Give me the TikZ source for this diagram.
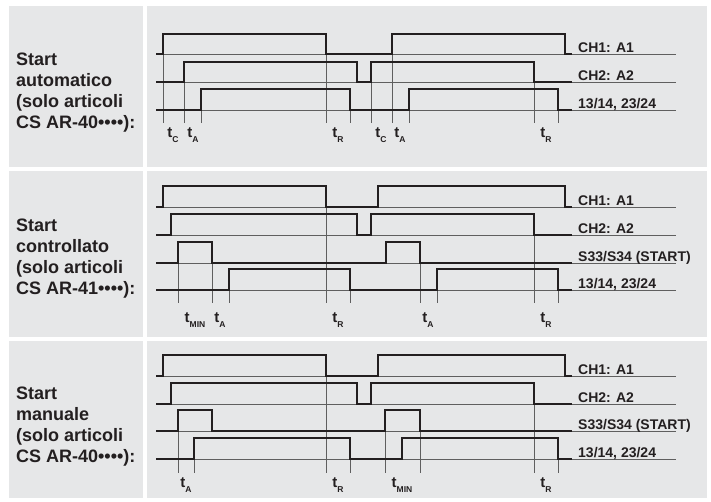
\documentclass[tikz,border=0pt]{standalone}
\usepackage{fontspec}
\setmainfont{Liberation Sans}
\definecolor{panelgray}{RGB}{230,231,232}
\definecolor{inkdark}{RGB}{35,31,32}
\definecolor{inkgray}{RGB}{95,95,95}
\tikzset{every picture/.style={x=1pt,y=-1pt},
  panel/.style={fill=panelgray,draw=none},
  wave/.style={draw=inkdark,line width=2.4pt},
  base/.style={draw=inkgray,line width=0.8pt},
  marker/.style={draw=inkgray,line width=0.7pt},
  chlabel/.style={anchor=base west,inner sep=0pt,text=inkdark,font=\fontsize{14}{16}\selectfont\bfseries},
  tlabel/.style={anchor=base,inner sep=0pt,text=inkdark,font=\fontsize{15}{16}\selectfont\bfseries},
  modelabel/.style={anchor=west,inner sep=0pt,align=left,text=inkdark,font=\fontsize{18}{21}\selectfont\bfseries}}
\newcommand{\tlab}[1]{t\raisebox{-5pt}{\fontsize{8.5}{9}\selectfont #1}}

\begin{document}
\begin{tikzpicture}
    \fill[white] (0,0) rectangle (711,501);
    \useasboundingbox (0,0) rectangle (711,501);

    % panels
    \foreach \top/\bot in {6/167, 171/337, 341/498} {
      \fill[panel] (9,\top) rectangle (143,\bot);
      \fill[panel] (147,\top) rectangle (707,\bot);
    }

    % base lines
    \foreach \y in {54,82,110,207,235,263,290,376,404,431,459}
      \draw[base] (156,\y) -- (676,\y);

    % time markers
    \foreach \x/\y in {163/54,184/82,201/110,326/54,350/110,371/82,392/54,409/110,534/82,558/110}
      \draw[marker] (\x,\y) -- (\x,123);
    \foreach \x/\y in {178/263,212/263,229/290,326/207,350/290,420/263,437/290,534/235,558/290}
      \draw[marker] (\x,\y) -- (\x,303);
    \foreach \x/\y in {178/431,194/459,326/376,350/459,385/431,420/431,534/404,558/459}
      \draw[marker] (\x,\y) -- (\x,473);

    % start automatico
    \draw[wave] (156,54) -| (163,34) -| (326,54) -| (392,34) -| (565,54) -- (572,54);
    \draw[wave] (156,82) -| (184,62) -| (357,82) -| (371,62) -| (534,82) -- (572,82);
    \draw[wave] (156,110) -| (201,89) -| (350,110) -| (409,89) -| (558,110) -- (572,110);

    % start controllato
    \draw[wave] (156,207) -| (163,186) -| (326,207) -| (378,186) -| (565,207) -- (572,207);
    \draw[wave] (156,235) -| (171,214) -| (357,235) -| (371,214) -| (534,235) -- (572,235);
    \draw[wave] (156,263) -| (178,242) -| (212,263) -| (386,242) -| (420,263) -- (572,263);
    \draw[wave] (156,290) -| (229,269) -| (350,290) -| (437,269) -| (558,290) -- (572,290);

    % start manuale
    \draw[wave] (156,376) -| (163,355) -| (326,376) -| (378,355) -| (565,376) -- (572,376);
    \draw[wave] (156,404) -| (171,383) -| (357,404) -| (371,383) -| (534,404) -- (572,404);
    \draw[wave] (156,431) -| (178,410) -| (212,431) -| (385,410) -| (420,431) -- (572,431);
    \draw[wave] (156,459) -| (194,438) -| (350,459) -| (402,438) -| (558,459) -- (572,459);

    % mode texts
    \node[modelabel] (auto) at (16,92.5) {Start\\automatico\\(solo articoli\\CS AR-40••••):};
    \node[modelabel] (ctrl) at (16,259) {Start\\controllato\\(solo articoli\\CS AR-41••••):};
    \node[modelabel] (manu) at (16,426.5) {Start\\manuale\\(solo articoli\\CS AR-40••••):};

    % channel texts
    \node[chlabel] (ch1a) at (578,52) {CH1: A1};
    \node[chlabel] (ch2a) at (578,80) {CH2: A2};
    \node[chlabel] (outa) at (578,108) {13/14, 23/24};
    \node[chlabel] (ch1b) at (578,205) {CH1: A1};
    \node[chlabel] (ch2b) at (578,233) {CH2: A2};
    \node[chlabel] (stb) at (578,261) {S33/S34 (START)};
    \node[chlabel] (outb) at (578,288) {13/14, 23/24};
    \node[chlabel] (ch1c) at (578,374) {CH1: A1};
    \node[chlabel] (ch2c) at (578,402) {CH2: A2};
    \node[chlabel] (stc) at (578,429) {S33/S34 (START)};
    \node[chlabel] (outc) at (578,457) {13/14, 23/24};

    % time texts
    \node[tlabel] (tca1) at (173,137) {\tlab{C}};
    \node[tlabel] (taa1) at (193,137) {\tlab{A}};
    \node[tlabel] (tra1) at (338,137) {\tlab{R}};
    \node[tlabel] (tca2) at (381,137) {\tlab{C}};
    \node[tlabel] (taa2) at (400,137) {\tlab{A}};
    \node[tlabel] (tra2) at (546,137) {\tlab{R}};
    \node[tlabel] (tmb1) at (195,322) {\tlab{MIN}};
    \node[tlabel] (tab1) at (220,322) {\tlab{A}};
    \node[tlabel] (trb1) at (338,322) {\tlab{R}};
    \node[tlabel] (tab2) at (428,322) {\tlab{A}};
    \node[tlabel] (trb2) at (546,322) {\tlab{R}};
    \node[tlabel] (tac1) at (186,487) {\tlab{A}};
    \node[tlabel] (trc1) at (338,487) {\tlab{R}};
    \node[tlabel] (tmc2) at (402,487) {\tlab{MIN}};
    \node[tlabel] (trc2) at (546,487) {\tlab{R}};
\end{tikzpicture}
\end{document}
